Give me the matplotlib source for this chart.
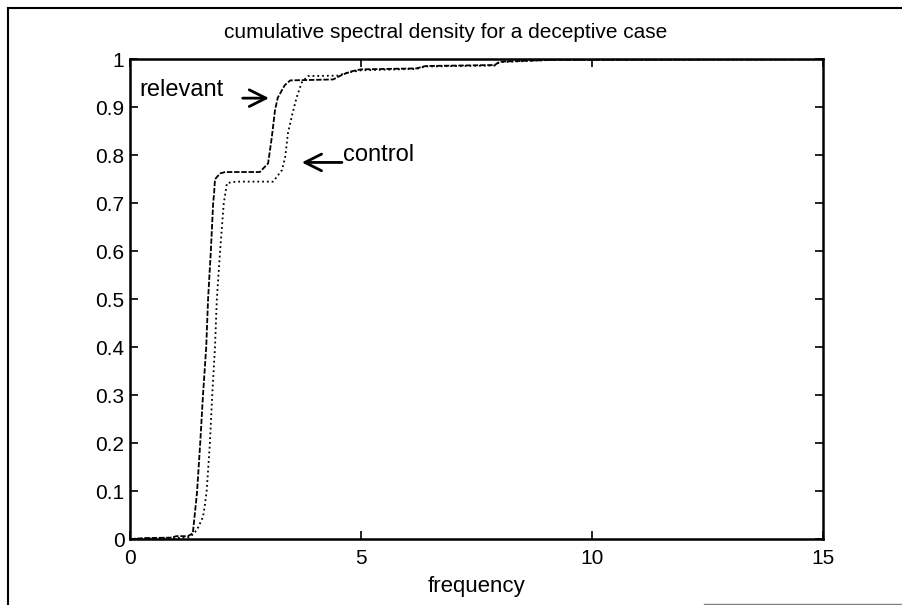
import matplotlib.pyplot as plt
from matplotlib.lines import Line2D

plt.rcParams['font.family'] = ['Liberation Sans', 'DejaVu Sans']

# relevant curve
rel_freq = [0.0, 0.3, 0.9, 1.0, 1.25, 1.36, 1.45, 1.52, 1.58, 1.65, 1.69, 1.75, 1.80, 1.82, 1.84,
            1.95, 2.06, 2.81, 2.99, 3.07, 3.14, 3.20, 3.35, 3.47, 4.40, 4.60, 4.80, 5.00, 6.20,
            6.40, 7.90, 8.00, 9.20, 15.0]
rel_cum = [0.0, 0.002, 0.003, 0.006, 0.006, 0.012, 0.096, 0.2, 0.3, 0.4, 0.5, 0.6, 0.7, 0.72, 0.75,
           0.762, 0.765, 0.765, 0.783, 0.837, 0.894, 0.92, 0.946, 0.956, 0.958, 0.968, 0.975,
           0.979, 0.981, 0.986, 0.988, 0.995, 0.999, 1.0]

# control curve
ctl_freq = [0.0, 1.0, 1.30, 1.45, 1.58, 1.62, 1.66, 1.73, 1.78, 1.84, 1.88, 1.95, 2.03, 2.10,
            2.30, 3.10, 3.29, 3.36, 3.42, 3.52, 3.61, 3.72, 3.85, 4.50, 4.70, 5.00, 6.20,
            6.40, 7.90, 8.00, 9.20, 15.0]
ctl_cum = [0.0, 0.002, 0.004, 0.019, 0.046, 0.07, 0.1, 0.2, 0.3, 0.4, 0.5, 0.6, 0.7, 0.742,
           0.745, 0.745, 0.769, 0.796, 0.846, 0.888, 0.921, 0.952, 0.965, 0.966, 0.972, 0.977,
           0.98, 0.985, 0.987, 0.994, 0.999, 1.0]

x_ticks = [0, 5, 10, 15]
y_ticks = [0, 0.1, 0.2, 0.3, 0.4, 0.5, 0.6, 0.7, 0.8, 0.9, 1]
y_labels = ['0', '0.1', '0.2', '0.3', '0.4', '0.5', '0.6', '0.7', '0.8', '0.9', '1']

fig = plt.figure(figsize=(9.03, 6.05), dpi=100)
ax = fig.add_axes([0.144, 0.109, 0.767, 0.793])

ax.plot(rel_freq, rel_cum, color='black', lw=1.3, linestyle=(0, (3, 1)))
ax.plot(ctl_freq, ctl_cum, color='black', lw=1.3, linestyle=':')

ax.set_xlim(0, 15)
ax.set_ylim(0, 1)
ax.set_xticks(x_ticks)
ax.set_yticks(y_ticks)
ax.set_yticklabels(y_labels)
ax.tick_params(direction='in', length=6, width=1.2, top=True, right=True, labelsize=15)
ax.tick_params(axis='x', pad=7)
ax.tick_params(axis='y', pad=4)
for s in ax.spines.values():
    s.set_linewidth(1.8)

# title sits a little left of centre in the scan
ax.set_title('cumulative spectral density for a deceptive case', fontsize=15, pad=15, x=0.456)
ax.set_xlabel('frequency', fontsize=16, labelpad=6)

# arrow labels
ax.annotate('', xy=(3.07, 0.919), xytext=(2.38, 0.919),
            arrowprops=dict(arrowstyle='->', lw=2, mutation_scale=30, color='black'))
ax.text(0.2, 0.935, 'relevant', fontsize=17, va='center', ha='left')
ax.annotate('', xy=(3.66, 0.785), xytext=(4.65, 0.785),
            arrowprops=dict(arrowstyle='->', lw=2, mutation_scale=30, color='black'))
ax.text(4.62, 0.80, 'control', fontsize=17, va='center', ha='left')

# page frame from the scan
fig.add_artist(Line2D([8 / 903, 8 / 903], [0, 1 - 8 / 605], color='black', lw=1.5))
fig.add_artist(Line2D([8 / 903, 1], [1 - 8 / 605, 1 - 8 / 605], color='black', lw=1.5))
fig.add_artist(Line2D([0.78, 1], [1 / 605, 1 / 605], color='grey', lw=1))

fig.savefig('out.png', dpi=100)
